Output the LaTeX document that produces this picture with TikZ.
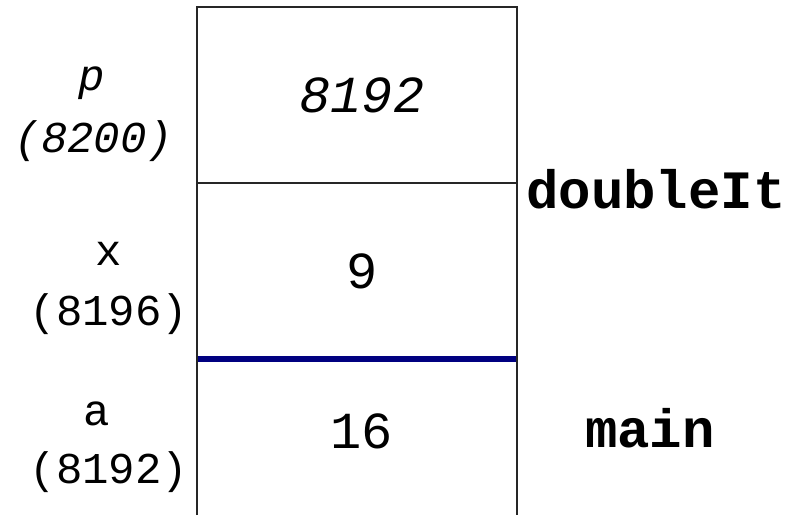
\documentclass[tikz,border=0pt]{standalone}
\usepackage{fontspec}
\setmonofont{Liberation Mono}
\usepackage{xcolor}
\usepackage{tikz}
\usetikzlibrary{calc}

\definecolor{framenavy}{RGB}{0,0,128}

\begin{document}
\begin{tikzpicture}[
            x=1pt, y=-1pt,
            cell_wall/.style={line width=2pt, color=black!85},
            cell_sep/.style={line width=1.6pt, color=black!85},
            frame_sep/.style={line width=6pt, color=framenavy},
            var_name/.style={anchor=base, inner sep=0pt, font=\ttfamily\fontsize{44}{48}\selectfont},
            cell_value/.style={anchor=base, inner sep=0pt, font=\ttfamily\fontsize{52}{56}\selectfont},
            frame_name/.style={anchor=base, inner sep=0pt, font=\ttfamily\bfseries\fontsize{54}{58}\selectfont}
        ]

        \useasboundingbox (0,0) rectangle (792,515);

        % Define coordinates for the stack column
        \coordinate (TL) at (197,7);
        \coordinate (TR) at (517,7);
        \coordinate (BL) at (197,515);
        \coordinate (BR) at (517,515);

        \coordinate (S1L) at (197,183);
        \coordinate (S1R) at (517,183);
        \coordinate (S2L) at (197,359);
        \coordinate (S2R) at (517,359);

        % Stack column, open at the bottom
        \draw[cell_wall] (BL) -- (TL) -- (TR) -- (BR);
        \draw[cell_sep] (S1L) -- (S1R);
        \draw[frame_sep] ([xshift=1pt]S2L) -- ([xshift=-1pt]S2R);

        % Variable names and addresses
        \node[var_name] (name_p) at (92,90) {\itshape p};
        \node[var_name] (addr_p) at (94,152) {\itshape (8200)};
        \node[var_name] (name_x) at (109,265) {x};
        \node[var_name] (addr_x) at (109,325) {(8196)};
        \node[var_name] (name_a) at (97,425) {a};
        \node[var_name] (addr_a) at (109,483) {(8192)};

        % Cell contents
        \node[cell_value] (val_p) at (362,112) {\itshape 8192};
        \node[cell_value] (val_x) at (362,288) {9};
        \node[cell_value] (val_a) at (362,448) {16};

        % Frame names
        \node[frame_name] (frame_double) at (656,208) {doubleIt};
        \node[frame_name] (frame_main) at (650,447) {main};

    \end{tikzpicture}
\end{document}
